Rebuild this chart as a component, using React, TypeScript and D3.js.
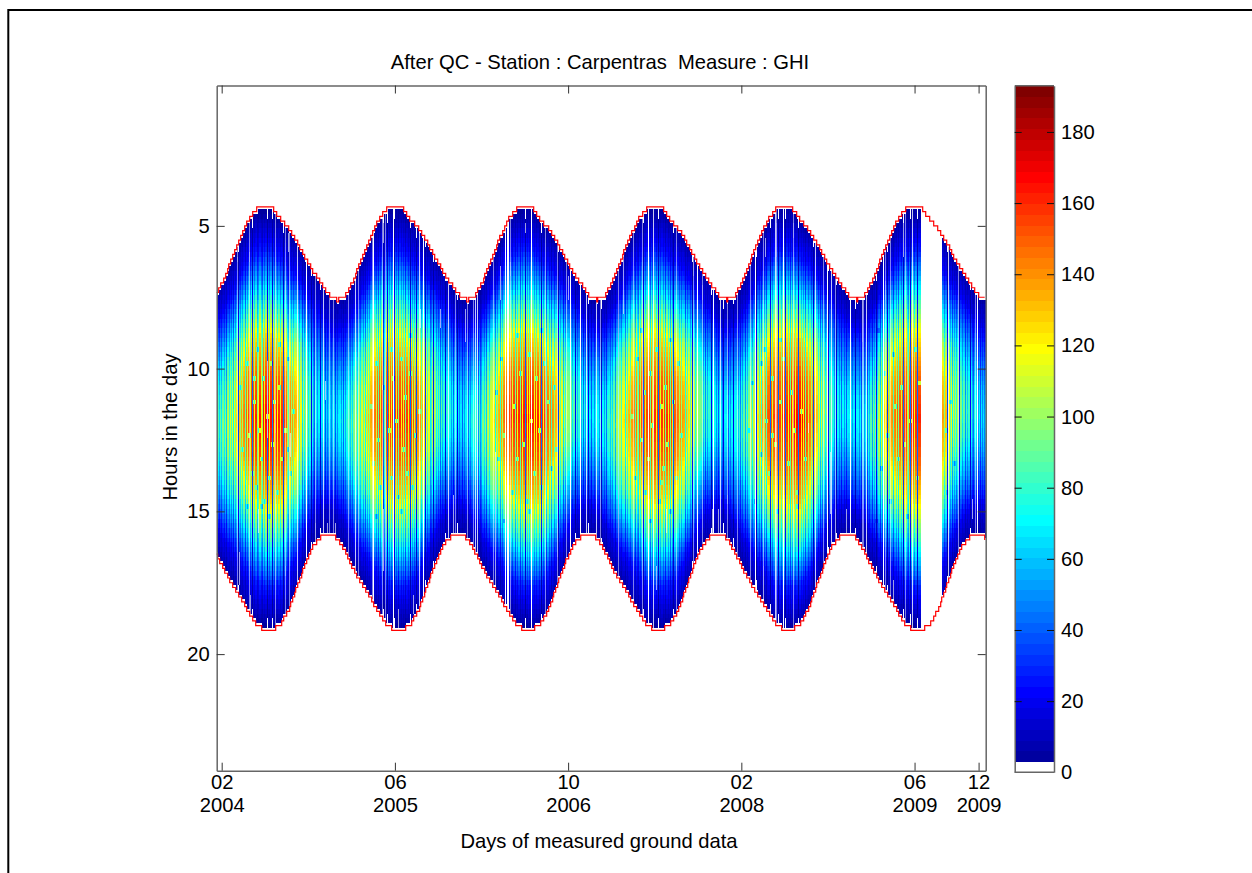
import React, { useEffect, useMemo, useRef } from "react";
import * as d3 from "d3";

const titleText = "After QC - Station : Carpentras  Measure : GHI";
const xLabelText = "Days of measured ground data";
const yLabelText = "Hours in the day";

const totalDays = 2162;
const tickDays = [14, 501, 988, 1475, 1962, 2142];
const tickMonths = ["02", "06", "10", "02", "06", "12"];
const tickYears = ["2004", "2005", "2006", "2008", "2009", "2009"];
const hourTicks = [5, 10, 15, 20];
const colorTicks = [0, 20, 40, 60, 80, 100, 120, 140, 160, 180];

// days since the June peak, with the sunrise / sunset hour
const firstPeakDay = 135;
const outlineDays = [0, 22.8, 45.6, 68.4, 91.2, 114, 136.8, 159.6, 182.4, 205.2, 228, 250.8, 273.6, 296.4, 319.2, 342, 365];
const sunriseHours = [4.3, 4.37, 4.78, 5.1, 5.55, 6.1, 6.6, 7.03, 7.42, 7.6, 7.42, 6.88, 6.13, 5.43, 4.8, 4.42, 4.3];
const sunsetHours = [19.15, 19.15, 18.95, 18.45, 17.65, 16.85, 16.2, 15.88, 15.8, 15.95, 16.45, 17.05, 17.55, 18.0, 18.5, 18.95, 19.15];

// position within the day (0 sunrise, 1 sunset)
const dayFractions = [0, 0.1, 0.2, 0.3, 0.4, 0.5, 0.6, 0.7, 0.8, 0.9, 1];
// days at which the values below were read
const valueDays = [0, 46, 91, 137, 182, 228, 274, 319, 365, 410, 456, 502, 547, 593, 638, 684, 730, 775, 821, 866, 912, 958, 1003, 1049, 1094, 1140, 1186, 1231, 1277, 1322, 1368, 1414, 1459, 1505, 1550, 1596, 1642, 1687, 1733, 1778, 1824, 1870, 1915, 1961, 2006, 2052, 2098, 2143, 2162];
const hourlyValues = [
  [7, 22, 44, 64, 78, 84, 78, 62, 43, 20, 7],
  [6, 23, 58, 92, 110, 118, 110, 90, 58, 23, 6],
  [5, 27, 74, 120, 146, 156, 148, 118, 74, 29, 6],
  [2, 28, 74, 126, 154, 168, 157, 128, 82, 30, 3],
  [5, 27, 70, 120, 150, 160, 150, 122, 76, 28, 6],
  [6, 23, 62, 100, 120, 128, 120, 98, 62, 24, 6],
  [7, 19, 38, 56, 68, 74, 68, 55, 37, 17, 7],
  [6, 16, 33, 48, 60, 64, 60, 48, 33, 14, 6],
  [7, 19, 39, 58, 72, 78, 72, 58, 39, 17, 7],
  [6, 23, 58, 92, 110, 118, 110, 90, 58, 23, 6],
  [5, 27, 72, 118, 146, 154, 146, 118, 74, 28, 6],
  [3, 27, 72, 120, 148, 160, 148, 122, 78, 29, 3],
  [5, 26, 68, 116, 146, 156, 146, 118, 74, 27, 6],
  [6, 23, 60, 96, 114, 122, 114, 94, 60, 23, 6],
  [7, 20, 41, 61, 76, 82, 76, 61, 41, 18, 7],
  [6, 17, 35, 50, 63, 68, 63, 50, 35, 16, 6],
  [7, 20, 41, 59, 74, 80, 74, 59, 40, 18, 7],
  [6, 23, 60, 94, 112, 120, 112, 92, 59, 23, 6],
  [5, 27, 72, 120, 146, 156, 146, 118, 74, 28, 6],
  [3, 28, 74, 124, 152, 165, 154, 126, 81, 30, 3],
  [5, 27, 72, 122, 150, 162, 150, 124, 79, 30, 6],
  [6, 24, 62, 100, 122, 130, 122, 100, 64, 25, 6],
  [7, 21, 44, 66, 82, 88, 82, 65, 44, 20, 7],
  [6, 17, 36, 52, 65, 70, 65, 51, 36, 16, 6],
  [7, 18, 39, 56, 70, 76, 70, 56, 39, 17, 7],
  [6, 23, 60, 94, 112, 120, 112, 92, 59, 23, 6],
  [5, 26, 70, 116, 142, 152, 142, 116, 72, 27, 6],
  [3, 27, 72, 122, 148, 160, 150, 124, 79, 30, 3],
  [5, 26, 70, 120, 148, 158, 148, 120, 76, 28, 6],
  [6, 24, 62, 100, 122, 130, 122, 100, 64, 25, 6],
  [7, 21, 44, 66, 82, 88, 82, 65, 44, 20, 7],
  [6, 16, 35, 50, 63, 68, 63, 50, 35, 16, 6],
  [7, 18, 39, 55, 70, 75, 70, 55, 39, 17, 7],
  [6, 20, 53, 82, 100, 108, 100, 80, 53, 21, 6],
  [5, 26, 70, 116, 142, 152, 142, 116, 72, 27, 6],
  [4, 26, 72, 120, 148, 158, 148, 120, 77, 29, 4],
  [5, 29, 76, 128, 158, 170, 158, 130, 84, 31, 6],
  [6, 24, 62, 100, 122, 130, 122, 100, 64, 25, 6],
  [7, 19, 40, 57, 72, 78, 72, 57, 40, 18, 7],
  [6, 17, 36, 52, 65, 70, 65, 51, 36, 16, 6],
  [7, 18, 38, 54, 68, 73, 68, 54, 38, 16, 7],
  [6, 23, 60, 94, 112, 120, 112, 92, 59, 23, 6],
  [5, 26, 70, 116, 142, 152, 142, 116, 72, 27, 6],
  [3, 27, 74, 122, 150, 162, 151, 124, 80, 30, 3],
  [5, 26, 72, 120, 148, 158, 148, 120, 77, 29, 6],
  [6, 24, 62, 100, 122, 130, 122, 100, 64, 25, 6],
  [7, 22, 47, 68, 85, 92, 85, 67, 47, 20, 7],
  [6, 17, 36, 52, 65, 70, 65, 51, 36, 16, 6],
  [6, 16, 33, 48, 61, 66, 61, 48, 33, 15, 6],
];

// stripes
const missingBlock = [1978, 2039];
const gapDays = [252, 441, 497, 581, 812, 816, 820, 885, 993, 1021, 1212, 1350, 1397, 1513, 1593, 1715, 1780, 1875, 2137];
const thinGapDays = [226, 299, 389, 569, 651, 726, 731, 1040, 1068, 1228, 1415, 1569, 1682, 1729, 1827, 1954, 2057];
const darkDays = [60, 99, 142, 156, 186, 265, 291, 469, 478, 500, 544, 562, 586, 609, 642, 675, 867, 884, 913, 960, 1007, 1045, 1082, 1200, 1242, 1284, 1337, 1390, 1425, 1453, 1518, 1555, 1579, 1598, 1635, 1677, 1719, 1743, 1794, 1854, 1884, 1931, 1951, 1970, 2055, 2088, 2118];
const dimDays = [27, 46, 79, 113, 128, 202, 240, 275, 306, 334, 355, 417, 455, 472, 475, 511, 530, 600, 628, 666, 689, 708, 734, 740, 759, 782, 796, 838, 852, 927, 941, 974, 1031, 1054, 1096, 1120, 1148, 1176, 1186, 1218, 1261, 1275, 1317, 1373, 1411, 1439, 1471, 1485, 1532, 1546, 1612, 1654, 1696, 1757, 1771, 1813, 1828, 1842, 1865, 1903, 1917, 1945, 2067, 2104, 2128, 2146];
const softDays = [8, 14, 21, 34, 40, 53, 66, 72, 85, 94, 105, 118, 124, 134, 148, 162, 171, 178, 198, 210, 216, 232, 246, 258, 270, 282, 312, 322, 340, 349, 362, 375, 380, 394, 404, 411, 424, 430, 448, 460, 485, 491, 506, 518, 524, 537, 550, 556, 575, 592, 604, 616, 622, 635, 658, 682, 696, 714, 745, 752, 766, 790, 803, 830, 845, 858, 873, 878, 892, 899, 906, 919, 934, 948, 966, 980, 1000, 1014, 1026, 1036, 1060, 1075, 1090, 1105, 1112, 1128, 1136, 1155, 1162, 1182, 1192, 1206, 1224, 1236, 1248, 1255, 1268, 1281, 1299, 1306, 1324, 1331, 1345, 1368, 1380, 1405, 1420, 1445, 1466, 1478, 1492, 1505, 1524, 1540, 1562, 1586, 1606, 1618, 1626, 1642, 1648, 1662, 1670, 1690, 1703, 1711, 1735, 1750, 1764, 1786, 1805, 1820, 1835, 1848, 1858, 1871, 1890, 1910, 1924, 1940, 1960, 2045, 2062, 2074, 2080, 2095, 2110, 2124, 2141, 2152, 2158];
const paleDays = [57, 90, 165, 193, 205, 277, 315, 327, 370, 398, 436, 464, 473, 670, 703, 722, 778, 824, 923, 956, 984, 1077, 1129, 1172, 1195, 1293, 1340, 1364, 1434, 1462, 1499, 1537, 1574, 1621, 1705, 1738, 1818, 1814, 1879, 1893, 1936, 2085, 2132];

// short pale strokes: day, first hour, last hour
const strokeDays = [57, 90, 193, 202, 299, 306, 310, 334, 277, 193, 62, 95, 118, 142, 165, 207, 469, 441, 572, 628, 666, 698, 469, 511, 553, 782, 867, 956, 824, 796, 988, 1144, 1284, 1340, 1364, 1392, 1411, 1434, 1265, 1237, 1537, 1541, 1621, 1574, 1663, 1738, 1771, 1724, 1499, 1931, 2085, 1814, 1879, 1903, 1954, 2123];
const strokeFrom = [6.08, 5.85, 6.9, 5.27, 7.8, 10.4, 15.5, 15.4, 15.5, 17, 16.5, 18, 15, 9.7, 11.4, 12.3, 5, 17, 8, 7.9, 14.5, 8, 15, 18.5, 18, 13, 5, 15.5, 6.2, 6.5, 6.8, 6, 5, 6.2, 7.1, 15, 15, 14.4, 15, 17, 17, 5.4, 4.9, 5, 12, 15, 15, 13, 10, 5, 5.5, 7.5, 7, 17.5, 17.9, 14.6];
const strokeTo = [6.3, 6.26, 7.6, 5.85, 8.3, 11, 16, 16, 16.2, 17.3, 17.6, 18.5, 15.7, 12.4, 12.3, 13, 5.5, 18, 8.6, 8.6, 15.7, 9, 17, 19, 18.5, 18, 5.3, 16.6, 6.8, 7.5, 7.6, 8, 5.3, 6.8, 7.5, 16, 16, 14.8, 15.8, 17.8, 18, 6, 5.4, 6, 12.3, 16.3, 15.9, 15, 14, 6, 6.5, 9, 7.5, 18.5, 18.9, 15.3];

// small cooler or lighter spots inside the summer cores: day, hour
const spotDays = [64, 70, 84, 88, 96, 103, 107, 110, 116, 121, 127, 131, 138, 146, 150, 153, 160, 168, 174, 181, 190, 197, 204, 212, 84, 103, 121, 146, 174, 197, 432, 438, 447, 452, 458, 466, 481, 488, 494, 503, 508, 515, 522, 527, 534, 541, 548, 555, 566, 447, 488, 515, 541, 782, 790, 798, 805, 828, 834, 843, 850, 858, 871, 876, 881, 889, 895, 903, 910, 917, 930, 937, 945, 952, 805, 843, 876, 910, 1166, 1174, 1180, 1190, 1198, 1203, 1211, 1216, 1222, 1234, 1240, 1246, 1252, 1259, 1265, 1272, 1280, 1288, 1296, 1303, 1190, 1216, 1246, 1272, 1494, 1503, 1510, 1528, 1537, 1543, 1550, 1558, 1566, 1574, 1582, 1590, 1603, 1611, 1620, 1628, 1640, 1652, 1528, 1558, 1582, 1628, 1850, 1858, 1866, 1874, 1882, 1890, 1898, 1906, 1914, 1922, 1930, 1938, 1946, 1960, 1966, 1972, 2048, 2052, 2060, 2072];
const spotHours = [10.6, 12.9, 9.8, 12.4, 13.6, 11.2, 14.1, 9.4, 12.1, 13.2, 10.3, 14.6, 11.7, 13.8, 9.9, 12.6, 11.1, 14.3, 10.7, 13.1, 12.2, 9.6, 13.7, 11.5, 14.9, 10.4, 14.8, 15.1, 9.2, 12.8, 11.3, 13.4, 9.9, 12.5, 14.2, 10.6, 12.1, 13.9, 10.3, 11.8, 14.5, 9.7, 12.9, 11.0, 13.6, 10.2, 14.1, 12.3, 11.5, 15.2, 9.4, 15.0, 8.9, 10.8, 13.2, 9.6, 12.4, 14.4, 11.3, 13.1, 10.1, 12.7, 14.6, 9.5, 11.9, 13.7, 10.4, 12.2, 14.2, 9.8, 11.1, 13.5, 10.6, 12.8, 15.3, 8.8, 15.0, 8.6, 11.6, 13.9, 9.7, 12.5, 10.9, 14.3, 13.1, 10.2, 12.0, 9.4, 14.7, 11.3, 13.5, 10.7, 12.6, 15.0, 11.1, 13.8, 9.9, 12.3, 8.7, 15.3, 14.0, 9.0, 12.2, 10.5, 14.6, 13.0, 9.3, 11.8, 13.7, 10.4, 12.6, 15.0, 11.2, 9.6, 13.4, 10.9, 12.1, 14.3, 11.5, 13.2, 9.8, 12.4, 9.0, 14.8, 15.4, 8.6, 13.5, 10.2, 12.3, 14.7, 9.5, 11.4, 13.1, 10.7, 12.6, 15.1, 11.9, 9.3, 13.9, 10.5, 12.2, 14.4, 11.1, 13.3, 9.7, 12.0, 10.8, 13.6];

const jetIndex = [1, 8, 24, 40, 56, 64];
const jetColors = ["#000090", "#0000ff", "#00ffff", "#ffff00", "#ff0000", "#800000"];
const colorMax = 193;

const margin = { left: 216.7, right: 985.7, top: 85.5, bottom: 770.7 };
const fontFamily = "'Liberation Sans', Arial, sans-serif";
const fontSize = 20.2;
const axisColor = "#666";

const jetScale = d3.scaleLinear<string>().domain(jetIndex).range(jetColors).interpolate(d3.interpolateRgb);
const palette = ["#ffffff", ...d3.range(2, 65).map((i) => jetScale(i))];
const colorOf = d3.scaleQuantize<string>().domain([0, colorMax]).range(palette);

const x = d3.scaleLinear().domain([0, totalDays]).range([margin.left, margin.right]);
const y = d3.scaleLinear().domain([1 / 12, 24 + 1 / 12]).range([margin.top, margin.bottom]);
const cbY = d3.scaleLinear().domain([0, colorMax]).range([772.3, 85.7]);

const sunriseAt = d3.scaleLinear().domain(outlineDays).range(sunriseHours);
const sunsetAt = d3.scaleLinear().domain(outlineDays).range(sunsetHours);
const phaseOf = (day: number) => (((day - firstPeakDay) % 365) + 365) % 365;
const knotScales = dayFractions.map((_, k) =>
  d3.scaleLinear().domain(valueDays).range(hourlyValues.map((r) => r[k]))
);

const columnStep = totalDays / (margin.right - margin.left);
const columnOf = (d: number) => Math.floor(d / columnStep);
const gapSet = new Set(gapDays.map(columnOf));
const thinSet = new Set(thinGapDays.map(columnOf));
const darkSet = new Set(darkDays.map(columnOf));
const dimSet = new Set(dimDays.map(columnOf));
const softSet = new Set(softDays.map(columnOf));
const paleSet = new Set(paleDays.map(columnOf));
const columns = d3.range(0, Math.floor(totalDays / columnStep));

const rowOf = (h: number) => Math.round(h * 6);
const strokeByCol = d3.group(strokeDays.map((_, i) => i), (i) => columnOf(strokeDays[i]));
const spotKey = new Set<string>();
spotDays.forEach((d, i) => {
  const r = rowOf(spotHours[i]);
  for (let o = 0; o < 3; o++) spotKey.add(`${columnOf(d) + o}:${r}`);
});

const firstRow = (day: number) => rowOf(sunriseAt(phaseOf(day)));
const lastRow = (day: number) => rowOf(sunsetAt(phaseOf(day)));

type Cell = { x: number; y: number; w: number; h: number; fill: string };

function buildCells(): Cell[] {
  const cells: Cell[] = [];
  for (const c of columns) {
    if (gapSet.has(c)) continue;
    const day = (c + 0.5) * columnStep;
    if (day >= missingBlock[0] && day <= missingBlock[1]) continue;
    const rise = sunriseAt(phaseOf(day));
    const set = sunsetAt(phaseOf(day));
    const profile = d3.scaleLinear().domain(dayFractions).range(knotScales.map((s) => s(day)));
    const factor = darkSet.has(c) ? 0.28 : dimSet.has(c) ? 0.6 : softSet.has(c) ? 0.74 : 1;
    const blend = thinSet.has(c) ? 0.78 : paleSet.has(c) ? 0.5 : 0;
    const strokes = strokeByCol.get(c) ?? [];
    let start = firstRow(day) + 1;
    let current = "";
    const end = lastRow(day) - 1;
    for (let r = start; r <= end + 1; r++) {
      let fill = "";
      if (r <= end) {
        const hour = r / 6;
        const t = Math.max(0, Math.min(1, (hour - rise) / (set - rise)));
        const spot = spotKey.has(`${c}:${r}`);
        fill = colorOf(Math.min(colorMax - 0.01, profile(t) * factor * (spot ? 0.72 : 1)));
        const stroked = strokes.some((i) => hour >= strokeFrom[i] && hour <= strokeTo[i]);
        const b = stroked ? Math.max(blend, 0.62) : blend;
        if (b > 0) fill = d3.interpolateRgb(fill, "#ffffff")(b);
      }
      if (fill !== current) {
        if (current) {
          const top = y((start - 0.5) / 6);
          const bottom = y((r - 0.5) / 6);
          if (current !== "#ffffff") {
            cells.push({ x: x(c * columnStep), y: top, w: x(columnStep) - x(0), h: bottom - top, fill: current });
          }
        }
        start = r;
        current = fill;
      }
    }
  }
  return cells;
}

const outlineLine = d3
  .line<number>()
  .x((c) => x(c * columnStep))
  .curve(d3.curveStepAfter);

export default function App() {
  const plotRef = useRef<SVGGElement>(null);
  const barRef = useRef<SVGGElement>(null);
  const cells = useMemo(buildCells, []);
  const risePath = useMemo(
    () => outlineLine.y((c) => y(firstRow((c + 0.5) * columnStep) / 6))(columns) ?? "",
    []
  );
  const setPath = useMemo(
    () => outlineLine.y((c) => y(lastRow((c + 0.5) * columnStep) / 6))(columns) ?? "",
    []
  );

  useEffect(() => {
    const style = (g: any) => {
      g.attr("font-size", fontSize).attr("font-family", fontFamily);
      g.selectAll("path").attr("stroke", axisColor).attr("stroke-width", 1.5);
      g.selectAll("line").attr("stroke", "#333").attr("stroke-width", 1);
      g.selectAll("text").attr("fill", "#000");
    };
    const root = d3.select(plotRef.current!);
    root.selectAll("*").remove();
    const tick = 8;
    const left = root.append("g").attr("transform", `translate(${margin.left},0)`);
    left.call(d3.axisLeft(y).tickValues(hourTicks).tickSizeInner(-tick).tickSizeOuter(0).tickPadding(7).tickFormat(d3.format("d")) as any);
    style(left);
    const right = root.append("g").attr("transform", `translate(${margin.right},0)`);
    right.call(d3.axisRight(y).tickValues(hourTicks).tickSizeInner(-tick).tickSizeOuter(0).tickFormat(() => "") as any);
    style(right);
    const top = root.append("g").attr("transform", `translate(0,${margin.top})`);
    top.call(d3.axisTop(x).tickValues(tickDays).tickSizeInner(-tick).tickSizeOuter(0).tickFormat(() => "") as any);
    style(top);
    const bottom = root.append("g").attr("transform", `translate(0,${margin.bottom})`);
    bottom.call(
      d3.axisBottom(x).tickValues(tickDays).tickSizeInner(-tick).tickSizeOuter(0).tickPadding(4)
        .tickFormat((_, i) => tickMonths[i]) as any
    );
    style(bottom);
    bottom.selectAll<SVGGElement, number>(".tick").each(function (_, i) {
      d3.select(this).append("text").attr("y", 41.5).attr("text-anchor", "middle").attr("fill", "#000").text(tickYears[i]);
    });

    const bar = d3.select(barRef.current!);
    bar.selectAll("*").remove();
    const barLeft = 1014.7;
    const barRight = 1054;
    const barAxis = bar.append("g").attr("transform", `translate(${barRight},0)`);
    barAxis.call(d3.axisRight(cbY).tickValues(colorTicks).tickSizeInner(-7).tickSizeOuter(0).tickPadding(7).tickFormat(d3.format("d")) as any);
    style(barAxis);
    barAxis.selectAll("line").attr("stroke", "#111");
    const barAxisL = bar.append("g").attr("transform", `translate(${barLeft},0)`);
    barAxisL.call(d3.axisLeft(cbY).tickValues(colorTicks).tickSizeInner(-7).tickSizeOuter(0).tickFormat(() => "") as any);
    style(barAxisL);
    barAxisL.selectAll("line").attr("stroke", "#111");
    bar.selectAll(".tick").filter((d: any) => d === 0).select("line").remove();
    bar.append("line").attr("x1", barLeft).attr("x2", barRight).attr("y1", cbY(colorMax)).attr("y2", cbY(colorMax)).attr("stroke", axisColor).attr("stroke-width", 1.5);
    bar.append("line").attr("x1", barLeft).attr("x2", barRight).attr("y1", cbY(0)).attr("y2", cbY(0)).attr("stroke", axisColor).attr("stroke-width", 1.5);
  }, []);

  return (
    <svg
      width={1252}
      height={873}
      viewBox="0 0 1252 873"
      style={{ position: "absolute", left: 0, top: 0, display: "block", background: "#fff" }}
    >
      <path d="M8.3,873V10H1252" fill="none" stroke="#000" strokeWidth={2} />
      <g shapeRendering="crispEdges">
        {cells.map((c, i) => (
          <rect key={i} x={c.x} y={c.y} width={c.w + 0.3} height={c.h} fill={c.fill} />
        ))}
      </g>
      <path d={risePath} fill="none" stroke="#f00" strokeWidth={1.2} />
      <path d={setPath} fill="none" stroke="#f00" strokeWidth={1.2} />
      <g ref={plotRef} />
      <g shapeRendering="crispEdges">
        {palette.map((color, i) => (
          <rect
            key={i}
            x={1014.7}
            width={39.3}
            y={cbY((i + 1) * (colorMax / 64))}
            height={cbY(i * (colorMax / 64)) - cbY((i + 1) * (colorMax / 64)) + 0.5}
            fill={color}
          />
        ))}
      </g>
      <g ref={barRef} />
      <g fontFamily={fontFamily} fontSize={fontSize} fill="#000" textAnchor="middle">
        <text x={600} y={69} xmlSpace="preserve">{titleText}</text>
        <text x={599} y={848}>{xLabelText}</text>
        <text transform="translate(177,427) rotate(-90)">{yLabelText}</text>
      </g>
    </svg>
  );
}
